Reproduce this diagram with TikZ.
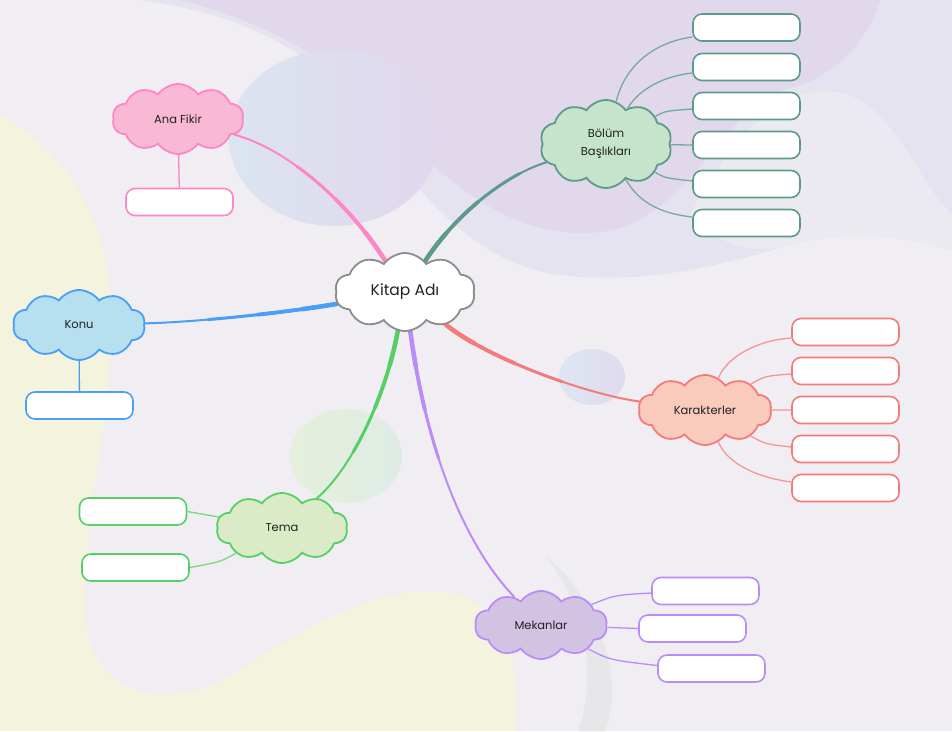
\documentclass[tikz,border=0pt]{standalone}
\usepackage{fontspec}
\setmainfont{Poppins}
\usetikzlibrary{shapes.symbols}
\definecolor{bgc}{HTML}{F0EEF2}
\definecolor{yel}{HTML}{F3F3DE}
\definecolor{lavA}{HTML}{E6E3F0}
\definecolor{lavB}{HTML}{E1D8EB}
\definecolor{lightblob}{HTML}{ECEAF1}
\definecolor{band}{HTML}{E7E6E9}
\definecolor{txt}{HTML}{222222}
\definecolor{cgray}{HTML}{8C8C8C}
\definecolor{pinkF}{HTML}{F9B9D4}
\definecolor{pinkD}{HTML}{FF85C5}
\definecolor{tealF}{HTML}{C6E4C9}
\definecolor{tealD}{HTML}{5E9A8C}
\definecolor{blueF}{HTML}{B6DFF0}
\definecolor{blueD}{HTML}{4A9EF6}
\definecolor{redF}{HTML}{FACABD}
\definecolor{redD}{HTML}{F47B7B}
\definecolor{greenF}{HTML}{DCEBC7}
\definecolor{greenD}{HTML}{56CF66}
\definecolor{purF}{HTML}{D3C3E3}
\definecolor{purD}{HTML}{BB8CF8}
\pgfdeclarelayer{bg}
\pgfdeclarelayer{lines}
\pgfsetlayers{bg,lines,main}
\newcommand{\mybranch}[2]{%
  \draw[#1, line width=2pt, line cap=round] #2;
  \draw[#1, line width=3pt, line cap=round, dash pattern=on 130pt off 3000pt] #2;
  \draw[#1, line width=3.8pt, line cap=round, dash pattern=on 80pt off 3000pt] #2;
  \draw[#1, line width=4.5pt, line cap=round, dash pattern=on 35pt off 3000pt] #2;}
\begin{document}
\begin{tikzpicture}[x=1pt,y=-1pt,
  cl/.style={cloud, cloud puffs=10, cloud puff arc=110, cloud ignores aspect, draw,
    line width=1.8pt, font=\fontsize{11.5}{18}\selectfont, text=txt, align=center, inner sep=0pt},
  bx/.style={draw, line width=1.6pt, fill=white, rounded corners=9pt,
    minimum width=107pt, minimum height=27pt, inner sep=0pt},
  ln/.style={line width=1.3pt}]
\useasboundingbox (0,0) rectangle (952,731);
\begin{pgfonlayer}{bg}
\fill[bgc] (0,0) rectangle (952,731);
\fill[lavA] (140,0) -- (952,0) -- (952,250) .. controls (900,235) and (850,230) .. (790,245)
  .. controls (720,265) and (650,285) .. (560,275) .. controls (480,265) and (420,200) .. (350,100)
  .. controls (300,40) and (220,10) .. (140,0) -- cycle;
\fill[lavB] (180,0) -- (880,0) .. controls (870,40) and (830,80) .. (790,88)
  .. controls (730,100) and (700,200) .. (620,228) .. controls (540,250) and (460,200) .. (400,130)
  .. controls (340,60) and (260,20) .. (180,0) -- cycle;
\fill[lightblob] (690,215) .. controls (740,120) and (800,70) .. (860,100)
  .. controls (900,125) and (925,190) .. (952,215) -- (952,250) .. controls (900,235) and (850,230) .. (790,245)
  .. controls (750,255) and (720,245) .. (690,215) -- cycle;
\fill[yel] (0,115) .. controls (70,150) and (112,230) .. (112,320) .. controls (112,420) and (82,520) .. (85,610)
  .. controls (88,700) and (170,715) .. (240,670) .. controls (330,610) and (400,580) .. (460,595)
  .. controls (510,610) and (522,680) .. (515,731) -- (0,731) -- cycle;
\fill[band] (545,555) .. controls (600,600) and (625,680) .. (605,731) -- (578,731)
  .. controls (597,680) and (588,610) .. (545,555) -- cycle;
\shade[left color={rgb,255:red,220;green,228;blue,241}, right color={rgb,255:red,224;green,215;blue,236}]
  (334,138) ellipse [x radius=105, y radius=88];
\shade[left color={rgb,255:red,221;green,230;blue,242}, right color={rgb,255:red,224;green,218;blue,238}]
  (592,377) ellipse [x radius=33, y radius=28];
\shade[left color={rgb,255:red,230;green,239;blue,220}, right color={rgb,255:red,222;green,236;blue,228}]
  (346,456) ellipse [x radius=56, y radius=47];
\end{pgfonlayer}

% main nodes
\node[cl, fill=white, draw=cgray, minimum width=140pt, minimum height=78pt, font=\fontsize{15.5}{18}\selectfont] (c) at (405,292) {Kitap Adı};
\node[cl, fill=pinkF, draw=pinkD, minimum width=131pt, minimum height=70pt] (af) at (178,119) {Ana Fikir};
\node[cl, fill=tealF, draw=tealD, minimum width=132pt, minimum height=88pt] (bb) at (606,144) {Bölüm\\Başlıkları};
\node[cl, fill=blueF, draw=blueD, minimum width=132pt, minimum height=70pt] (ko) at (79,325) {Konu};
\node[cl, fill=redF, draw=redD, minimum width=133pt, minimum height=70pt] (ka) at (705,410) {Karakterler};
\node[cl, fill=greenF, draw=greenD, minimum width=131pt, minimum height=70pt] (te) at (282,528) {Tema};
\node[cl, fill=purF, draw=purD, minimum width=132pt, minimum height=68pt] (me) at (541,625) {Mekanlar};

% boxes
\node[bx, draw=pinkD] (af1) at (179.5,202) {};
\node[bx, draw=blueD] (ko1) at (79.5,405.5) {};
\node[bx, draw=tealD] (bb1) at (746.5,27.5) {};
\node[bx, draw=tealD] (bb2) at (746.5,67) {};
\node[bx, draw=tealD] (bb3) at (746.5,106) {};
\node[bx, draw=tealD] (bb4) at (746.5,145) {};
\node[bx, draw=tealD] (bb5) at (746.5,184) {};
\node[bx, draw=tealD] (bb6) at (746.5,223) {};
\node[bx, draw=redD] (ka1) at (845.5,332) {};
\node[bx, draw=redD] (ka2) at (845.5,371) {};
\node[bx, draw=redD] (ka3) at (845.5,410) {};
\node[bx, draw=redD] (ka4) at (845.5,449) {};
\node[bx, draw=redD] (ka5) at (845.5,488) {};
\node[bx, draw=purD] (me1) at (705.5,591) {};
\node[bx, draw=purD] (me2) at (692.5,628.5) {};
\node[bx, draw=purD] (me3) at (711.5,668.5) {};
\node[bx, draw=greenD] (te1) at (133,511.5) {};
\node[bx, draw=greenD] (te2) at (135.5,567.5) {};

\begin{pgfonlayer}{lines}
% main branches
\mybranch{pinkD}{(c) .. controls (350,205) and (290,150) .. (af)}
\mybranch{tealD}{(c) .. controls (455,215) and (505,175) .. (bb)}
\mybranch{blueD}{(c) .. controls (290,312) and (200,322) .. (ko)}
\mybranch{redD}{(c) .. controls (490,360) and (590,395) .. (ka)}
\mybranch{greenD}{(c) .. controls (385,400) and (350,470) .. (te)}
\mybranch{purD}{(c) .. controls (425,440) and (460,540) .. (me)}
% child lines
\draw[ln, pinkD] (af) -- (af1);
\draw[ln, blueD] (ko) -- (ko1);
\draw[ln, tealD!85!white] (bb) .. controls (625,65) and (655,42) .. ([yshift=-9.5pt]bb1.west);
\draw[ln, tealD!85!white] (bb) .. controls (640,88) and (665,76) .. ([yshift=-6pt]bb2.west);
\draw[ln, tealD!85!white] (bb) .. controls (665,111) .. ([yshift=-3pt]bb3.west);
\draw[ln, tealD!85!white] (bb) -- (bb4.west);
\draw[ln, tealD!85!white] (bb) .. controls (665,178) .. ([yshift=3pt]bb5.west);
\draw[ln, tealD!85!white] (bb) .. controls (640,205) and (665,214) .. ([yshift=6pt]bb6.west);
\draw[ln, redD!80!white] (ka) .. controls (728,355) and (760,340) .. ([yshift=-6pt]ka1.west);
\draw[ln, redD!80!white] (ka) .. controls (765,376) .. ([yshift=-3pt]ka2.west);
\draw[ln, redD!80!white] (ka) -- (ka3.west);
\draw[ln, redD!80!white] (ka) .. controls (765,444) .. ([yshift=2pt]ka4.west);
\draw[ln, redD!80!white] (ka) .. controls (728,465) and (760,478) .. ([yshift=6pt]ka5.west);
\draw[ln, purD] (me) .. controls (615,595) .. ([yshift=-2pt]me1.west);
\draw[ln, purD] (me) -- (me2.west);
\draw[ln, purD] (me) .. controls (610,660) .. ([yshift=3pt]me3.west);
\draw[ln, greenD!80!white] (te1.east) -- (te);
\draw[ln, greenD!80!white] (te2.east) .. controls (220,562) .. (te);
\end{pgfonlayer}
\end{tikzpicture}
\end{document}
